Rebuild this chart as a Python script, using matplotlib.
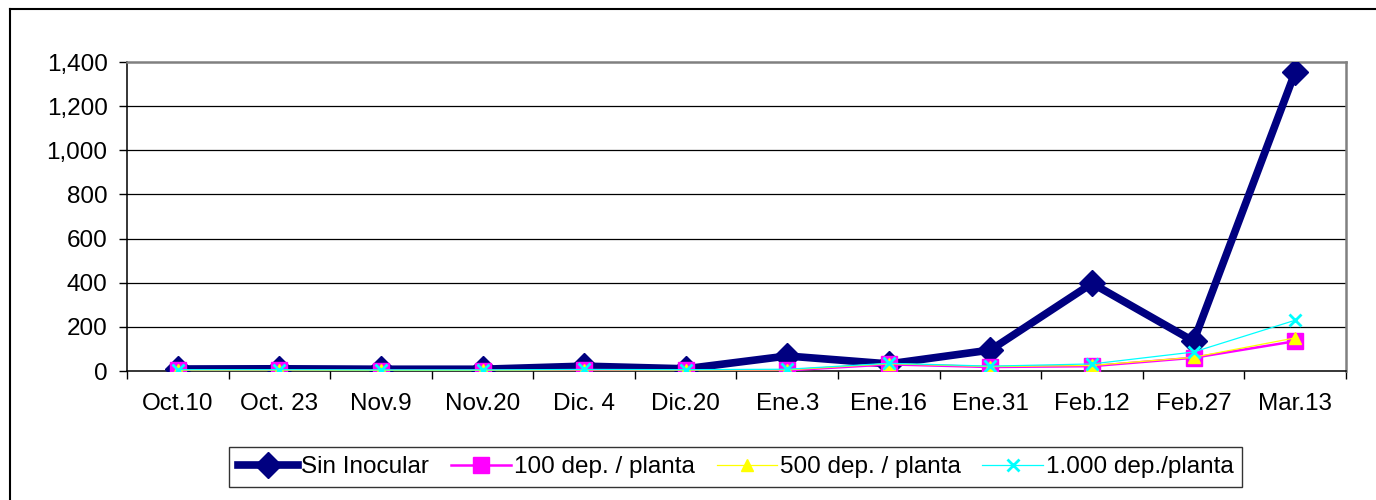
import matplotlib
matplotlib.use("Agg")
import matplotlib.pyplot as plt
from matplotlib.lines import Line2D
from matplotlib.ticker import FuncFormatter, FixedLocator

plt.rcParams['font.family'] = ['Liberation Sans', 'DejaVu Sans']

categories = ["Oct.10", "Oct. 23", "Nov.9", "Nov.20", "Dic. 4", "Dic.20",
              "Ene.3", "Ene.16", "Ene.31", "Feb.12", "Feb.27", "Mar.13"]
sin_inocular = [9, 10, 8, 8, 22, 10, 68, 32, 95, 397, 135, 1355]
dep100 = [3, 3, 2, 2, 4, 3, 3, 30, 18, 22, 60, 135]
dep500 = [4, 4, 3, 3, 5, 4, 5, 33, 20, 25, 62, 150]
dep1000 = [6, 6, 5, 5, 7, 6, 8, 35, 22, 32, 86, 230]
series_names = ["Sin Inocular", "100 dep. / planta", "500 dep. / planta", "1.000 dep./planta"]
yticks = [0, 200, 400, 600, 800, 1000, 1200, 1400]

W, H = 1376, 500
FS = 17.5
fig = plt.figure(figsize=(W / 100, H / 100), dpi=100)
ax = fig.add_axes([127 / W, 1 - 371 / H, (1346 - 127) / W, (371 - 62) / H])

x = list(range(len(categories)))
ax.plot(x, sin_inocular, color='#000080', lw=5.5, marker='D', ms=13,
        markeredgecolor='#000080', label=series_names[0], zorder=3)
ax.plot(x, dep100, color='#FF00FF', lw=1.8, marker='s', ms=11,
        markeredgecolor='#FF00FF', label=series_names[1], zorder=4)
ax.plot(x, dep500, color='#FFFF00', lw=0.9, marker='^', ms=8.5,
        markeredgecolor='#FFFF00', label=series_names[2], zorder=5)
ax.plot(x, dep1000, color='#00FFFF', lw=0.9, marker='x', ms=8, mew=2,
        markeredgecolor='#00FFFF', label=series_names[3], zorder=6)

ax.set_xlim(-0.5, len(categories) - 0.5)
ax.set_ylim(0, 1400)
ax.set_yticks(yticks)
ax.yaxis.set_major_formatter(FuncFormatter(lambda v, p: f"{int(v):,}"))
for v in yticks[1:-1]:
    ax.axhline(v, color='black', lw=0.9, zorder=1)

ax.set_xticks(x)
ax.set_xticklabels(categories)
ax.xaxis.set_minor_locator(FixedLocator([i - 0.5 for i in range(len(categories) + 1)]))
ax.tick_params(axis='x', which='major', length=0, pad=16, labelsize=FS)
ax.tick_params(axis='x', which='minor', length=6, width=1, direction='out')
ax.tick_params(axis='y', length=6, width=1, direction='out', pad=8, labelsize=FS)

for side in ['top', 'right']:
    ax.spines[side].set_color('#808080')
    ax.spines[side].set_linewidth(1.8)
for side in ['left', 'bottom']:
    ax.spines[side].set_color('black')
    ax.spines[side].set_linewidth(1.1)

leg = fig.legend(loc='center', bbox_to_anchor=(735.5 / W, 1 - 467 / H), ncol=4,
                 fontsize=FS, frameon=True, fancybox=False, edgecolor='black',
                 handlelength=2.5, handletextpad=0.1, columnspacing=0.9,
                 borderpad=0.35, borderaxespad=0)
leg.get_frame().set_linewidth(1.0)

# outer chart border (clipped at right/bottom like the reference)
fig.add_artist(Line2D([10 / W, 10 / W], [1 - 9 / H, 0], transform=fig.transFigure,
                      color='black', lw=1.5))
fig.add_artist(Line2D([10 / W, 1], [1 - 9 / H, 1 - 9 / H], transform=fig.transFigure,
                      color='black', lw=1.5))

fig.savefig("out.png", dpi=100)
